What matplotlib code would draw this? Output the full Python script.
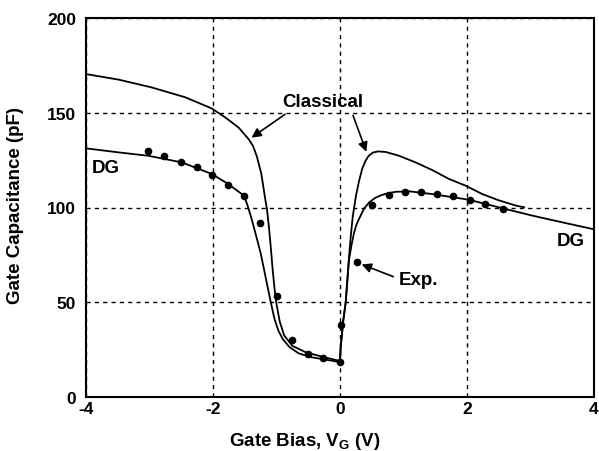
import matplotlib
matplotlib.use("Agg")
import matplotlib.pyplot as plt

plt.rcParams['font.family'] = ['Liberation Sans', 'DejaVu Sans']
plt.rcParams['font.weight'] = 'bold'
plt.rcParams['axes.labelweight'] = 'bold'
plt.rcParams['mathtext.fontset'] = 'custom'
plt.rcParams['mathtext.rm'] = 'Liberation Sans:bold'
plt.rcParams['mathtext.it'] = 'Liberation Sans:bold'
plt.rcParams['axes.unicode_minus'] = False

# classical simulation
v_cl = [-4.0, -3.49, -2.97, -2.44, -2.02, -1.81, -1.6, -1.44, -1.37, -1.31,
        -1.24, -1.18, -1.15, -1.12, -1.09, -1.06, -1.03, -1.0, -0.95, -0.88,
        -0.75, -0.54, -0.25, 0.0, 0.01, 0.05, 0.09, 0.14, 0.17, 0.2, 0.25, 0.3,
        0.35, 0.4, 0.45, 0.52, 0.6, 0.72, 0.93, 1.19, 1.45, 1.72, 1.98, 2.24,
        2.5, 2.77, 2.9]
c_cl = [170.4, 167.5, 163.4, 158.2, 152.3, 147.6, 142.3, 136.1, 132.5, 127,
        118, 105, 99, 90, 79, 67, 57, 49, 40, 32.5,
        27, 23.6, 21, 19, 26, 40, 50, 73, 85, 95, 106, 114,
        120.5, 124.5, 127.2, 129, 129.6, 129.3, 127.3, 123.8, 119.8, 115, 111.5, 107.1,
        103.8, 101, 100.1]

# density-gradient simulation
v_dg = [-4.0, -3.49, -3.02, -2.49, -2.02, -1.76, -1.51, -1.45, -1.38, -1.32,
        -1.25, -1.17, -1.09, -1.03, -0.97, -0.9, -0.8, -0.65, -0.45, -0.28,
        -0.1, 0.0, 0.01, 0.05, 0.09, 0.14, 0.18, 0.22, 0.26, 0.3, 0.38, 0.46,
        0.55, 0.65, 0.75, 0.88, 1.1, 1.45, 2.03, 2.5, 3.03, 3.55, 4.0]
c_dg = [131.2, 129.1, 127.3, 123.8, 117.7, 112.4, 106.2, 100.5, 92.5, 85,
        76, 63, 50, 41, 35, 30.5, 26.5, 23, 21, 20,
        19, 18.3, 26, 40, 50, 72, 80, 86.5, 91, 94, 99.5, 102.7,
        105, 106.5, 107.5, 108.3, 108.5, 107.1, 104.1, 100.1, 95.7, 91.8, 88.5]

# measured points
v_exp = [-3.02, -2.77, -2.51, -2.25, -2.02, -1.76, -1.51, -1.26, -1.0, -0.76,
         -0.51, -0.27, 0.0, 0.02, 0.26, 0.51, 0.77, 1.02, 1.27, 1.53, 1.78,
         2.04, 2.29, 2.56]
c_exp = [130, 127, 124.2, 121.2, 117, 112, 105.9, 91.6, 53.5, 30.3,
         22.7, 20.4, 18.3, 38, 71.4, 101.3, 106.6, 108, 108, 107, 106,
         104, 101.8, 99.2]

xticks = [-4, -2, 0, 2, 4]
yticks = [0, 50, 100, 150, 200]

fig = plt.figure(figsize=(5.99, 4.52), dpi=100)
ax = fig.add_axes([86 / 599, 54 / 452, 508 / 599, 379 / 452])

ax.plot(v_cl, c_cl, color='black', lw=1.3)
ax.plot(v_dg, c_dg, color='black', lw=1.3)
ax.plot(v_exp, c_exp, 'o', color='black', ms=4.5)

ax.set_xlim(-4, 4)
ax.set_ylim(0, 200)
ax.set_xticks(xticks)
ax.set_yticks(yticks)
ax.grid(True, color='black', lw=1.0, linestyle=(0, (3, 3)))
ax.tick_params(length=0, labelsize=12.5)
ax.tick_params(axis='y', pad=7)
ax.tick_params(axis='x', pad=3)
for s in ax.spines.values():
    s.set_linewidth(1.5)

ax.set_xlabel(r'Gate Bias, V$\mathregular{_G}$ (V)', fontsize=13.5)
ax.set_ylabel('Gate Capacitance (pF)', fontsize=13.5)
ax.xaxis.set_label_coords(0.431, -0.086)
ax.yaxis.set_label_coords(-0.122, 0.507)

# annotations
ax.text(-0.27, 156, 'Classical', fontsize=13.5, ha='center', va='center')
arr = dict(arrowstyle='-|>', color='black', lw=1.2, mutation_scale=14)
ax.annotate('', xy=(-1.43, 136), xytext=(-0.83, 150), arrowprops=arr)
ax.annotate('', xy=(0.43, 128), xytext=(0.19, 150), arrowprops=arr)
ax.annotate('', xy=(0.3, 70.5), xytext=(0.88, 63), arrowprops=arr)
ax.text(0.92, 62, 'Exp.', fontsize=13.5, ha='left', va='center')
ax.text(-3.69, 121, 'DG', fontsize=13.5, ha='center', va='center')
ax.text(3.63, 82.5, 'DG', fontsize=13.5, ha='center', va='center')

fig.savefig('out.png', dpi=100)
